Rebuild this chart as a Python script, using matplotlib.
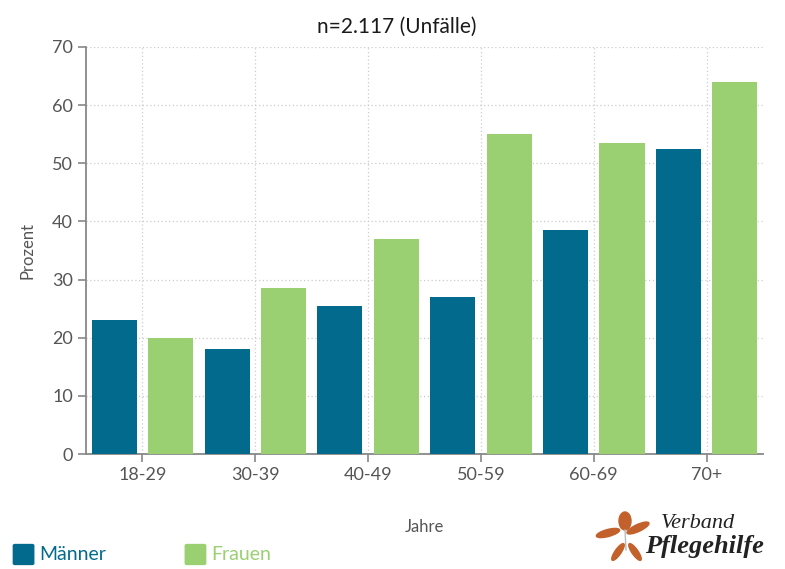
import matplotlib.pyplot as plt
from matplotlib.patches import Ellipse, FancyBboxPatch
import numpy as np

plt.rcParams['font.family'] = ['Lato', 'DejaVu Sans']

kategorien = ["18-29", "30-39", "40-49", "50-59", "60-69", "70+"]
maenner = [23, 18, 25.5, 27, 38.5, 52.5]
frauen = [20, 28.5, 37, 55, 53.5, 64]
y_ticks = [0, 10, 20, 30, 40, 50, 60, 70]

col_m = "#016A8D"
col_f = "#9AD071"
grau = "#555555"

fig = plt.figure(figsize=(7.85, 5.69), dpi=100)
ax = fig.add_axes([0.1096, 0.2021, 0.8624, 0.7153])

x = np.arange(len(kategorien))
b = 0.4
ax.bar(x - 0.25, maenner, b, color=col_m, zorder=3)
ax.bar(x + 0.25, frauen, b, color=col_f, zorder=3)

ax.set_xlim(-0.5, 5.5)
ax.set_ylim(0, 70)
ax.set_xticks(x)
ax.set_xticklabels(kategorien)
ax.set_yticks(y_ticks)
ax.grid(True, color="#cccccc", linestyle=(0, (1, 2)), linewidth=0.9, zorder=0)
for s in ["top", "right"]:
    ax.spines[s].set_visible(False)
for s in ["left", "bottom"]:
    ax.spines[s].set_color("#888888")
    ax.spines[s].set_linewidth(1.3)
ax.tick_params(colors="#888888", labelcolor=grau, labelsize=13, length=6, width=1.2)
ax.set_ylabel("Prozent", fontsize=12, color=grau, labelpad=12)
ax.set_xlabel("Jahre", fontsize=12, color=grau, labelpad=26)

fig.text(0.505, 0.952, "n=2.117 (Unfälle)", ha="center", va="center", fontsize=15, color="#1a1a1a")

# Legende
fig.patches.append(FancyBboxPatch((0.019, 0.010), 0.022, 0.031, boxstyle="round,pad=0.002",
                                  transform=fig.transFigure, color=col_m))
fig.text(0.05, 0.025, "Männer", fontsize=14, color=col_m, va="center")
fig.patches.append(FancyBboxPatch((0.238, 0.010), 0.022, 0.031, boxstyle="round,pad=0.002",
                                  transform=fig.transFigure, color=col_f))
fig.text(0.269, 0.025, "Frauen", fontsize=14, color=col_f, va="center")

# Logo (Pixelangaben -> Zoll)
orange = "#C2612B"
tr = fig.dpi_scale_trans
for (px, py, w, h, a) in [(625, 521, 12, 18, 0), (608, 533, 24, 7, 15),
                          (638, 528, 24, 7, 25), (618, 552, 20, 6, 55),
                          (635, 552, 20, 6, -55)]:
    fig.patches.append(Ellipse((px / 100, (569 - py) / 100), w / 100, h / 100, angle=a,
                               transform=tr, color=orange))
fig.lines.append(plt.Line2D([6.25, 6.26], [(569 - 530) / 100, (569 - 550) / 100],
                            transform=tr, color="#bbbbbb", linewidth=1))
fig.text(6.98 / 7.85, (569 - 523) / 569, "Verband", fontsize=16, family="Liberation Serif",
         style="italic", color="#222222", va="center", ha="center")
fig.text(7.04 / 7.85, (569 - 546) / 569, "Pflegehilfe", fontsize=19, family="Liberation Serif",
         style="italic", weight="bold", color="#222222", va="center", ha="center")

plt.savefig("out.png", dpi=100)
